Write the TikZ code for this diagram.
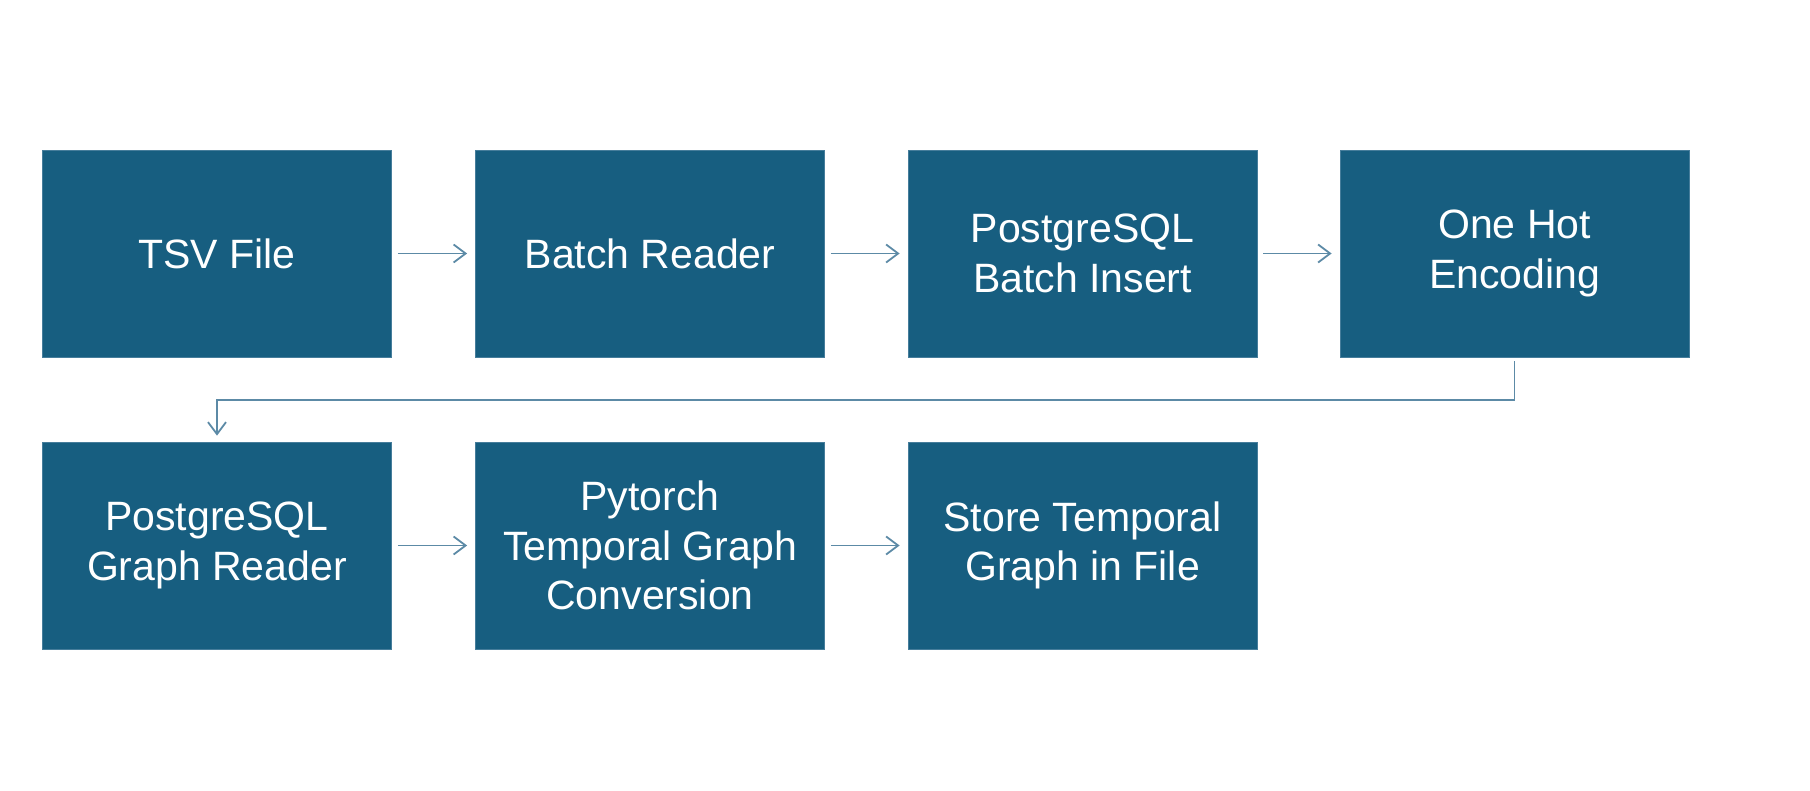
\documentclass[tikz,border=0pt]{standalone}
\usepackage{fontspec}
\setmainfont{Liberation Sans}
\usetikzlibrary{arrows.meta}
\definecolor{boxblue}{RGB}{23,94,128}
\definecolor{boxedge}{RGB}{70,125,155}
\definecolor{arrowblue}{RGB}{92,138,166}
\tikzset{
  stepbox/.style={rectangle, fill=boxblue, draw=boxedge, line width=0.4pt,
    minimum width=174.5pt, minimum height=103.5pt, inner sep=0pt,
    text=white, align=center,
    font=\fontsize{20.5}{24.8}\selectfont},
  flow/.style={draw=arrowblue, line width=0.9pt,
    -{Straight Barb[length=6pt,width=9pt,line width=0.9pt]}}
}
\begin{document}
\begin{tikzpicture}[x=0.5pt,y=-0.5pt]
\useasboundingbox (0,0) rectangle (1810,791);
\node[stepbox] (tsv) at (217,253.5) {TSV File};
\node[stepbox] (br) at (650,253.5) {Batch Reader};
\node[stepbox] (pbi) at (1082.5,253.5) {PostgreSQL\\Batch Insert};
\node[stepbox] (ohe) at (1514.5,253.5) {One Hot\\Encoding};
\node[stepbox] (pgr) at (217,545.5) {PostgreSQL\\Graph Reader};
\node[stepbox] (ptg) at (650,545.5) {Pytorch\\Temporal Graph\\Conversion};
\node[stepbox] (stg) at (1082.5,545.5) {Store Temporal\\Graph in File};
\draw[flow, shorten <=3pt, shorten >=4pt] (tsv) -- (br);
\draw[flow, shorten <=3pt, shorten >=4pt] (br) -- (pbi);
\draw[flow, shorten <=3pt, shorten >=4pt] (pbi) -- (ohe);
\draw[flow, shorten <=3pt, shorten >=4pt] (pgr) -- (ptg);
\draw[flow, shorten <=3pt, shorten >=4pt] (ptg) -- (stg);
\coordinate (bendR) at (1514.5,400);
\coordinate (bendL) at (217,400);
\draw[flow, shorten <=2pt, shorten >=3pt] (ohe.south) -- (bendR) -- (bendL) -- (pgr.north);
\end{tikzpicture}
\end{document}
